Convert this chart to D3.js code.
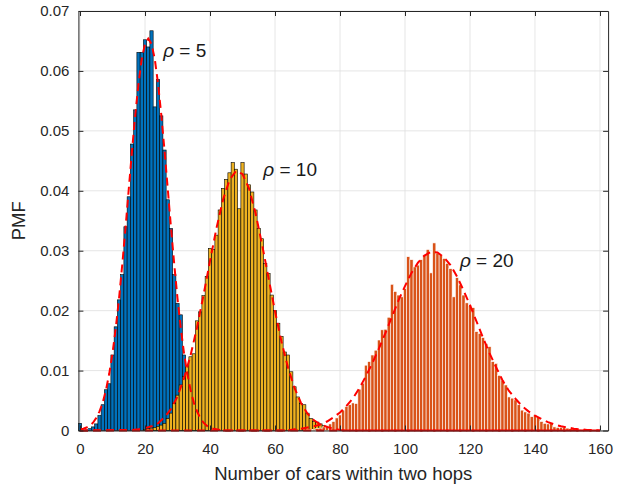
<!DOCTYPE html>
<html><head><meta charset="utf-8">
<script src="https://cdn.jsdelivr.net/npm/d3@7"></script>
<style>html,body{margin:0;padding:0;background:#fff;} svg{display:block;}</style>
</head><body>
<script>
// ---------- data ----------
const xTickValues = [0, 20, 40, 60, 80, 100, 120, 140, 160];
const xTickLabels = ["0", "20", "40", "60", "80", "100", "120", "140", "160"];
const yTickValues = [0, 0.01, 0.02, 0.03, 0.04, 0.05, 0.06, 0.07];
const yTickLabels = ["0", "0.01", "0.02", "0.03", "0.04", "0.05", "0.06", "0.07"];

// empirical PMF, rho = 5 (first value is number of cars = rho5Start)
const rho5Start = 0;
const rho5Pmf = [0.0012, 0, 0.0001, 0.0003, 0.0006, 0.0011, 0.0025, 0.0043, 0.0068, 0.0078,
  0.0126, 0.0173, 0.0218, 0.0260, 0.0340, 0.0390, 0.0478, 0.0535, 0.0631, 0.0631,
  0.0652, 0.0640, 0.0667, 0.0540, 0.0586, 0.0525, 0.0468, 0.0385, 0.0337, 0.0260,
  0.0212, 0.0193, 0.0126, 0.0075, 0.0045, 0.0025, 0.0012, 0.0006, 0.0003, 0.0001];

// empirical PMF, rho = 10
const rho10Start = 20;
const rho10Pmf = [0.0002, 0.0003, 0.0004, 0.0005, 0.0007, 0.0009, 0.0012, 0.0020, 0.0029, 0.0045,
  0.0059, 0.0076, 0.0090, 0.0108, 0.0123, 0.0128, 0.0183, 0.0198, 0.0225, 0.0257,
  0.0304, 0.0302, 0.0326, 0.0368, 0.0404, 0.0419, 0.0430, 0.0447, 0.0436, 0.0370,
  0.0447, 0.0428, 0.0410, 0.0398, 0.0368, 0.0337, 0.0320, 0.0279, 0.0262, 0.0226,
  0.0200, 0.0179, 0.0157, 0.0131, 0.0126, 0.0098, 0.0073, 0.0056, 0.0045, 0.0043,
  0.0029, 0.0020, 0.0015, 0.0014, 0.0011, 0.0008, 0.0005, 0.0003, 0.0002];

// empirical PMF, rho = 20
const rho20Start = 70;
const rho20Pmf = [0.0001, 0.0001, 0.0002, 0.0003, 0.0004, 0.0006, 0.0008, 0.0011, 0.0015, 0.0021,
  0.0026, 0.0034, 0.0040, 0.0043, 0.0046, 0.0045, 0.0069, 0.0079, 0.0109, 0.0115,
  0.0126, 0.0134, 0.0151, 0.0168, 0.0169, 0.0189, 0.0244, 0.0232, 0.0226, 0.0223,
  0.0237, 0.0290, 0.0285, 0.0273, 0.0276, 0.0285, 0.0293, 0.0302, 0.0263, 0.0313,
  0.0296, 0.0293, 0.0287, 0.0279, 0.0270, 0.0223, 0.0255, 0.0243, 0.0226, 0.0213,
  0.0209, 0.0205, 0.0165, 0.0162, 0.0155, 0.0145, 0.0140, 0.0115, 0.0112, 0.0092,
  0.0084, 0.0076, 0.0056, 0.0054, 0.0051, 0.0043, 0.0034, 0.0031, 0.0029, 0.0023,
  0.0026, 0.0022, 0.0015, 0.0012, 0.0011, 0.0012, 0.0006, 0.0005, 0.0005, 0.0005,
  0.0004, 0.0003, 0.0003, 0.0002, 0.0002, 0.0002, 0.0001, 0.0001, 0.0001, 0.0001];

// fitted (analytical) PMF curves, red dashed
const fit5X = [0,1,2,3,4,5,6,7,8,9,10,11,12,13,14,15,16,17,18,19,20,21,22,23,24,25,26,27,28,29,
  30,31,32,33,34,35,36,37,38,39,40,41,42,43,44,160];
const fit5Y = [0.0002,0.0003,0.0005,0.0008,0.0013,0.0021,0.0032,0.0047,0.0068,0.0095,
  0.0129,0.0171,0.0220,0.0277,0.0338,0.0403,0.0467,0.0527,0.0579,0.0620,
  0.0645,0.0654,0.0645,0.0620,0.0579,0.0527,0.0467,0.0403,0.0338,0.0277,
  0.0220,0.0171,0.0129,0.0095,0.0068,0.0047,0.0032,0.0021,0.0013,0.0008,
  0.0005,0.0003,0.0002,0.0001,0,0];

const fit10X = [0,16,18,20,22,24,26,28,30,32,34,36,38,40,42,44,46,48,50,52,54,56,58,60,
  62,64,66,68,70,72,74,76,78,80,82,160];
const fit10Y = [0,0.0001,0.0002,0.0004,0.0007,0.0012,0.0022,0.0036,0.0057,0.0087,0.0125,0.0172,
  0.0226,0.0283,0.0338,0.0385,0.0418,0.0433,0.0428,0.0404,0.0363,0.0311,0.0255,0.0199,
  0.0148,0.0105,0.0071,0.0046,0.0028,0.0017,0.0010,0.0006,0.0003,0.0001,0,0];

const fit20X = [0,64,66,68,70,72,74,76,78,80,82,84,86,88,90,92,94,96,98,100,102,104,106,108,
  110,112,114,116,118,120,122,124,126,128,130,132,134,136,138,140,142,144,146,148,150,
  152,154,156,158,160];
const fit20Y = [0,0,0.0002,0.0003,0.0005,0.0007,0.0010,0.0015,0.0022,0.0030,0.0041,0.0054,0.0071,
  0.0091,0.0113,0.0137,0.0163,0.0190,0.0217,0.0241,0.0263,0.0280,0.0292,0.0298,
  0.0297,0.0289,0.0276,0.0257,0.0234,0.0209,0.0182,0.0155,0.0129,0.0106,0.0084,
  0.0066,0.0053,0.0041,0.0032,0.0025,0.0019,0.0014,0.0010,0.0007,0.0005,
  0.0003,0.0002,0.0001,0.0001,0];

// annotation texts and anchor points (data coordinates)
const annoText = ["5", "10", "20"];
const annoX = [25.6, 56.4, 116.9];
const annoY = [0.0623, 0.0425, 0.0273];

// ---------- chart ----------
const W = 629, H = 487;
const L = 78.4, R = 608.1, T = 11, B = 430.5;
const ink = "#262626";
const font = "'Liberation Sans', Arial, Helvetica, sans-serif";

const svg = d3.select("body").append("svg")
  .attr("width", W).attr("height", H)
  .style("background", "#fff");

const x = d3.scaleLinear().domain([-0.5, 162.5]).range([L, R]);
const y = d3.scaleLinear().domain([0, 0.07]).range([B, T]);

// grid
const grid = svg.append("g").attr("stroke", "#dfdfdf").attr("stroke-width", 0.8);
grid.selectAll(".vg").data(xTickValues).join("line")
  .attr("x1", d => x(d)).attr("x2", d => x(d)).attr("y1", T).attr("y2", B);
grid.selectAll(".hg").data(yTickValues).join("line")
  .attr("x1", L).attr("x2", R).attr("y1", d => y(d)).attr("y2", d => y(d));

function drawBars(start, vals, fill, stroke, sw) {
  const data = vals.map((v, i) => ({k: start + i, v})).filter(d => d.v > 0);
  svg.append("g").selectAll("rect").data(data).join("rect")
    .attr("x", d => x(d.k - 0.5))
    .attr("width", d => x(d.k + 0.5) - x(d.k - 0.5))
    .attr("y", d => y(d.v))
    .attr("height", d => y(0) - y(d.v))
    .attr("fill", fill)
    .attr("stroke", stroke)
    .attr("stroke-width", sw);
}
drawBars(rho5Start, rho5Pmf, "#0072BD", "#000", 0.6);
drawBars(rho10Start, rho10Pmf, "#EDB120", "#000", 0.6);
drawBars(rho20Start, rho20Pmf, "#D95319", "#fff", 0.6);

// fitted curves
const line = d3.line().x(d => x(d[0])).y(d => y(d[1]));
[[fit5X, fit5Y], [fit10X, fit10Y], [fit20X, fit20Y]].forEach(([xs, ys]) => {
  svg.append("path")
    .datum(xs.map((v, i) => [v, ys[i]]))
    .attr("d", line)
    .attr("fill", "none")
    .attr("stroke", "#ff0000")
    .attr("stroke-width", 2)
    .attr("stroke-dasharray", "8,5");
});

// axes (ticks inward, box)
function styleAxis(g) {
  g.attr("color", ink).attr("font-family", font).attr("font-size", 15);
  g.selectAll("text").attr("fill", ink);
}
svg.append("g").attr("transform", `translate(0,${B})`)
  .call(d3.axisBottom(x).tickValues(xTickValues).tickFormat((d, i) => xTickLabels[i])
    .tickSizeInner(-5).tickSizeOuter(0).tickPadding(13))
  .call(styleAxis);
svg.append("g").attr("transform", `translate(${L},0)`)
  .call(d3.axisLeft(y).tickValues(yTickValues).tickFormat((d, i) => yTickLabels[i])
    .tickSizeInner(-5).tickSizeOuter(0).tickPadding(9))
  .call(styleAxis);
svg.append("g").attr("transform", `translate(0,${T})`)
  .call(d3.axisTop(x).tickValues(xTickValues).tickFormat("")
    .tickSizeInner(-5).tickSizeOuter(0))
  .call(styleAxis);
svg.append("g").attr("transform", `translate(${R},0)`)
  .call(d3.axisRight(y).tickValues(yTickValues).tickFormat("")
    .tickSizeInner(-5).tickSizeOuter(0))
  .call(styleAxis);

// axis labels
svg.append("text")
  .attr("x", (L + R) / 2).attr("y", 480)
  .attr("text-anchor", "middle")
  .attr("font-family", font).attr("font-size", 18.5).attr("fill", ink)
  .text("Number of cars within two hops");
svg.append("text")
  .attr("transform", `translate(25,${(T + B) / 2}) rotate(-90)`)
  .attr("text-anchor", "middle")
  .attr("font-family", font).attr("font-size", 18.5).attr("fill", ink)
  .text("PMF");

// annotations
annoText.forEach((t, i) => {
  const tx = svg.append("text")
    .attr("x", x(annoX[i])).attr("y", y(annoY[i]))
    .attr("font-family", font).attr("font-size", 19).attr("fill", "#1a1a1a");
  tx.append("tspan").attr("font-style", "italic").text("ρ");
  tx.append("tspan").text(" = " + t);
});
</script>
</body></html>
